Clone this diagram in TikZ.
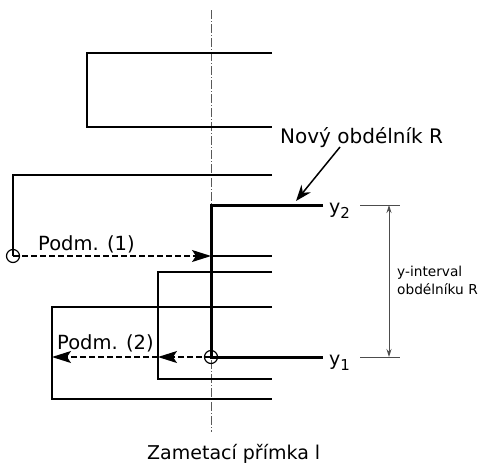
\documentclass[tikz,border=0pt]{standalone}
\usepackage{fontspec}
\setmainfont{DejaVu Sans}
\usetikzlibrary{arrows.meta}
\begin{document}
\begin{tikzpicture}[x=1pt,y=-1pt,
  thinl/.style={line width=1.3pt},
  thickl/.style={line width=3pt},
  sweep/.style={line width=0.7pt, gray!70!black, dash pattern=on 9pt off 2pt on 1pt off 2pt},
  darr/.style={line width=1.3pt, dash pattern=on 6pt off 3pt, -{Stealth[length=19pt,width=12pt,inset=4pt]}},
  dimline/.style={gray!60!black, line width=0.9pt},
  dimarr/.style={gray!60!black, line width=0.9pt, {Stealth[length=8pt,width=5pt]}-{Stealth[length=8pt,width=5pt]}},
  ptr/.style={line width=1.5pt, -{Stealth[length=16pt,width=12pt]}},
  pt/.style={circle, draw, line width=1.2pt, minimum size=13pt, inner sep=0pt},
  lbl/.style={inner sep=0pt, anchor=base west}]
\useasboundingbox (0,0) rectangle (486,466);

% sweep line
\coordinate (st) at (211,10);
\coordinate (sb) at (211,432);
\draw[sweep] (st) -- (sb);

% old rectangles (open on the right)
\draw[thinl] (272,53) -- (87,53) -- (87,127) -- (272,127);
\draw[thinl] (272,175) -- (13,175) -- (13,256);
\draw[thinl] (211,256) -- (272,256);
\draw[thinl] (272,272) -- (158,272) -- (158,379) -- (272,379);
\draw[thinl] (272,307) -- (52,307) -- (52,399) -- (272,399);

% new rectangle R
\coordinate (r2) at (323,205);
\coordinate (r1) at (323,357);
\draw[thickl] (r2) -- (211,205) -- (211,357) -- (r1);

% points and conditions
\node[pt] (c1) at (13,256) {};
\coordinate (s1) at (211,256);
\draw[darr] (c1.center) -- (s1);
\node[lbl, font=\fontsize{19.5}{22}\selectfont] (p1) at (38,250) {Podm. (1)};

\node[pt] (c2) at (211,357) {};
\coordinate (a2) at (158,357);
\coordinate (a3) at (52,357);
\draw[darr] (c2.center) -- (a2);
\draw[darr] (a2) -- (a3);
\node[lbl, font=\fontsize{19.5}{22}\selectfont] (p2) at (57,349) {Podm. (2)};

% labels y1, y2
\node[lbl, font=\fontsize{19}{21}\selectfont] (y2) at (329,213) {y\raisebox{-0.3em}{\fontsize{15}{17}\selectfont 2}};
\node[lbl, font=\fontsize{19}{21}\selectfont] (y1) at (329,365) {y\raisebox{-0.3em}{\fontsize{15}{17}\selectfont 1}};

% dimension
\coordinate (d2a) at (360,205);
\coordinate (d2b) at (400,205);
\coordinate (d1a) at (360,357);
\coordinate (d1b) at (400,357);
\draw[dimline] (d2a) -- (d2b);
\draw[dimline] (d1a) -- (d1b);
\coordinate (dt) at (389,205);
\coordinate (db) at (389,357);
\draw[dimarr] (dt) -- (db);
\node[lbl, font=\fontsize{13.7}{16}\selectfont] (yi1) at (397,276) {y-interval};
\node[lbl, font=\fontsize{13.7}{16}\selectfont] (yi2) at (397,294) {obdélníku R};

% new rectangle label
\node[lbl, font=\fontsize{20}{22}\selectfont] (nov) at (280,143) {Nový obdélník R};
\coordinate (ps) at (340,147);
\coordinate (pe) at (296,201);
\draw[ptr] (ps) -- (pe);

% sweep line label
\node[lbl, font=\fontsize{19}{21}\selectfont] (zam) at (147,459) {Zametací přímka l};
\end{tikzpicture}
\end{document}
